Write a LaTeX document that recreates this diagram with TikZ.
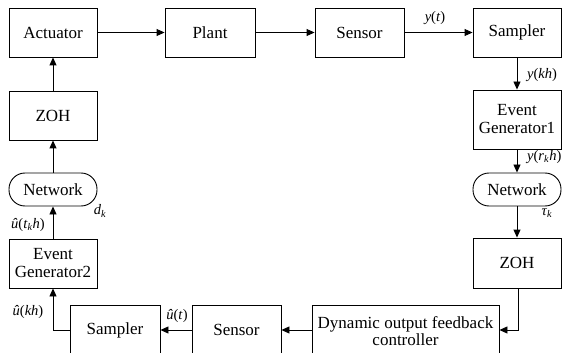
\documentclass[tikz,border=0pt]{standalone}
\usepackage{fontspec}
\setmainfont{Liberation Serif}
\usetikzlibrary{arrows.meta}
\newcommand{\iv}[1]{\textit{#1}}
\newcommand{\isub}[1]{\textsubscript{\textit{#1}}}
\begin{document}
\begin{tikzpicture}[x=1pt,y=-1pt,
  blk/.style={draw,line width=0.9pt,rectangle,align=center,inner sep=0pt,font=\fontsize{17}{19}\selectfont},
  net/.style={draw,line width=0.9pt,rectangle,rounded corners=16pt,inner sep=0pt,minimum width=88pt,minimum height=33pt,font=\fontsize{17}{19}\selectfont},
  conn/.style={line width=0.9pt,-{Triangle[length=8pt,width=7pt]}},
  lbl/.style={font=\fontsize{14.5}{16}\selectfont,inner sep=0pt}]
\clip (0,0) rectangle (566,353);
\useasboundingbox (0,0) rectangle (566,353);
% top row
\node[blk,minimum width=88pt,minimum height=49pt] (act) at (53,32.5) {Actuator};
\node[blk,minimum width=90pt,minimum height=49pt] (plant) at (210,32.5) {Plant};
\node[blk,minimum width=89pt,minimum height=49pt] (sens1) at (359.5,32.5) {Sensor};
\node[blk,minimum width=88pt,minimum height=49pt] (samp1) at (517,32.5) {Sampler};
% right column
\node[blk,minimum width=88pt,minimum height=59pt] (eg1) at (517,119.5) {Event\\[-1pt]Generator1};
\node[net] (net1) at (517,189.5) {Network};
\node[blk,minimum width=88pt,minimum height=50pt] (zoh1) at (517,263) {ZOH};
% left column
\node[blk,minimum width=88pt,minimum height=49pt] (zoh2) at (53,115.5) {ZOH};
\node[net] (net2) at (53,189.5) {Network};
\node[blk,minimum width=88pt,minimum height=49pt] (eg2) at (53,263.5) {Event\\[-1pt]Generator2};
% bottom row
\node[blk,minimum width=187pt,minimum height=52pt,anchor=north] (ctrl) at (405.5,305) {Dynamic output feedback\\[-2pt]controller};
\node[blk,minimum width=89pt,minimum height=52pt,anchor=north] (sens2) at (236.5,305) {};
\node[font=\fontsize{17}{19}\selectfont] (sens2t) at (236.5,330) {Sensor};
\node[blk,minimum width=90pt,minimum height=52pt,anchor=north] (samp2) at (115,305) {};
\node[font=\fontsize{17}{19}\selectfont] (samp2t) at (115,330) {Sampler};
\coordinate (cz) at (518,330);
\coordinate (cl) at (53,330);
% connectors
\draw[conn] (act) -- (plant);
\draw[conn] (plant) -- (sens1);
\draw[conn] (sens1) -- (samp1);
\draw[conn] (samp1) -- (eg1);
\draw[conn] (eg1) -- (net1);
\draw[conn] (net1) -- (zoh1);
\draw[conn] (zoh1.south -| cz) -- (cz) -- (ctrl.east |- cz);
\draw[conn] (ctrl.west |- cz) -- (sens2.east |- cz);
\draw[conn] (sens2.west |- cz) -- (samp2.east |- cz);
\draw[conn] (samp2.west |- cz) -- (cl) -- (eg2.south);
\draw[conn] (eg2) -- (net2);
\draw[conn] (net2) -- (zoh2);
\draw[conn] (zoh2) -- (act);
% labels
\node[lbl] (l1) at (435,18) {\iv{y}(\iv{t})};
\node[lbl,anchor=west] (l2) at (527,75) {\iv{y}(\iv{kh})};
\node[lbl,anchor=west] (l3) at (527,157) {\iv{y}(\iv{r}\isub{k}\iv{h})};
\node[lbl] (l4) at (547,213) {\iv{τ}\isub{k}};
\node[lbl] (l5) at (100,211) {\iv{d}\isub{k}};
\node[lbl] (l6) at (28,225) {\iv{\^u}(\iv{t}\isub{k}\iv{h})};
\node[lbl] (l7) at (28,312) {\iv{\^u}(\iv{kh})};
\node[lbl] (l8) at (177,316) {\iv{\^u}(\iv{t})};
\end{tikzpicture}
\end{document}
